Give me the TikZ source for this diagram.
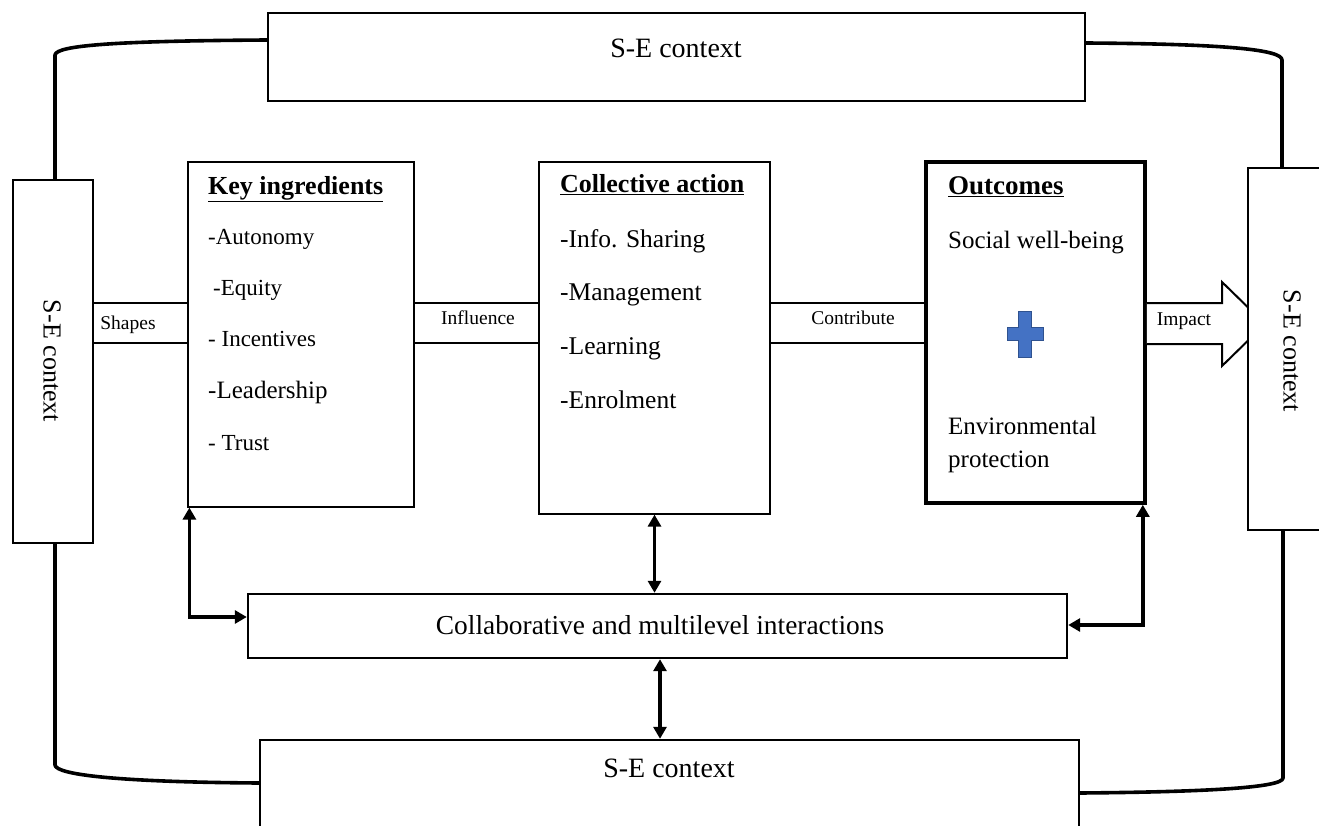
\documentclass[tikz,border=0pt]{standalone}
\usepackage{fontspec}
\setmainfont{Liberation Serif}
\usetikzlibrary{arrows.meta,calc}
\newcommand{\myfs}[1]{\fontsize{#1}{#1}\selectfont}
\begin{document}
\begin{tikzpicture}[x=1pt,y=-1pt,
  sebox/.style={draw,line width=2.4pt,inner sep=0pt,fill=white},
  thinbox/.style={draw,line width=1.2pt,inner sep=0pt},
  thickbox/.style={draw,line width=3.6pt,inner sep=0pt},
  item/.style={anchor=mid west,inner sep=0pt},
  band/.style={line width=1.6pt},
  lbl/.style={inner sep=0pt,font=\myfs{19.5}},
  outer/.style={line width=3.6pt,line join=round},
  biarrow/.style={line width=3.6pt,{Triangle[length=12pt,width=13pt]}-{Triangle[length=12pt,width=13pt]}},
]
\useasboundingbox (0,0) rectangle (1319,826);
\clip (0,0) rectangle (1319,826);

% boxes
\node[sebox,minimum width=817pt,minimum height=88pt] (top) at (676.5,57) {};
\node[font=\myfs{28},inner sep=0pt] (toptxt) at (676,48) {S-E context};
\node[sebox,minimum width=80pt,minimum height=363pt] (lbox) at (53,361.5) {};
\node[font=\myfs{26},inner sep=0pt,rotate=-90] (ltxt) at (52,361) {S-E context};

\node[thinbox,minimum width=226pt,minimum height=345pt] (key) at (301,334.5) {};
\node[thinbox,minimum width=231pt,minimum height=352pt] (coll) at (654.5,338) {};
\node[thickbox,minimum width=219pt,minimum height=341pt] (out) at (1035.5,332.5) {};

\node[sebox,minimum width=819pt,minimum height=64pt] (collab) at (657.5,626) {};
\node[font=\myfs{27.4},inner sep=0pt] (collabtxt) at (660,625) {Collaborative and multilevel interactions};
\node[sebox,minimum width=819pt,minimum height=100pt] (bot) at (669.5,790) {};
\node[font=\myfs{28},inner sep=0pt] (bottxt) at (669,768) {S-E context};

% key ingredients text
\node[item,font=\myfs{26}\bfseries] (k0) at (208,192) {\underline{Key ingredients}};
\node[item,font=\myfs{23}] (k1) at (208,242) {-Autonomy};
\node[item,font=\myfs{23}] (k2) at (213,293) {-Equity};
\node[item,font=\myfs{23}] (k3) at (208,344) {- Incentives};
\node[item,font=\myfs{25}] (k4) at (208,396) {-Leadership};
\node[item,font=\myfs{23}] (k5) at (208,448) {- Trust};

% collective action text
\node[item,font=\myfs{26}\bfseries] (c0) at (560,190) {\underline{Collective action}};
\node[item,font=\myfs{25.5}] (c1) at (560,245) {-Info. Sharing};
\node[item,font=\myfs{25.5}] (c2) at (560,298) {-Management};
\node[item,font=\myfs{25.5}] (c3) at (560,352) {-Learning};
\node[item,font=\myfs{25.5}] (c4) at (560,406) {-Enrolment};

% outcomes text
\node[item,font=\myfs{27}\bfseries] (o0) at (948,192) {\underline{Outcomes}};
\node[item,font=\myfs{25}] (o1) at (948,246) {Social well-being};
\node[item,font=\myfs{25}] (o2) at (948,432) {Environmental};
\node[item,font=\myfs{25}] (o3) at (948,465) {protection};

% plus sign
\draw[fill={rgb,255:red,68;green,114;blue,196},draw={rgb,255:red,47;green,82;blue,143},line width=1pt]
  (1025,334) ++(-6.5,-23) -- ++(13,0) -- ++(0,16.5) -- ++(11.5,0) -- ++(0,13) -- ++(-11.5,0)
  -- ++(0,16.5) -- ++(-13,0) -- ++(0,-16.5) -- ++(-11.5,0) -- ++(0,-13) -- ++(11.5,0) -- cycle;

% bands
\draw[band] (lbox.east |- 0,303) -- (key.west |- 0,303);
\draw[band] (lbox.east |- 0,343) -- (key.west |- 0,343);
\node[lbl] (shapes) at (128,325) {Shapes};
\draw[band] (key.east |- 0,303) -- (coll.west |- 0,303);
\draw[band] (key.east |- 0,343) -- (coll.west |- 0,343);
\node[lbl] (infl) at (478,318) {Influence};
\draw[band] (coll.east |- 0,303) -- (out.west |- 0,303);
\draw[band] (coll.east |- 0,343) -- (out.west |- 0,343);
\node[lbl] (contr) at (853,318) {Contribute};

% impact block arrow
\draw[line width=2pt,fill=white,line join=miter]
  (out.east |- 0,303) -- (1222,303) -- (1222,282) -- (1265,324) -- (1222,366) -- (1222,344) -- (out.east |- 0,344);
\node[lbl] (impact) at (1184,321) {Impact};

% right box (over arrow tip)
\node[sebox,minimum width=82pt,minimum height=362pt] (rbox) at (1289,349) {};
\node[font=\myfs{26},inner sep=0pt,rotate=-90] (rtxt) at (1292,351) {S-E context};

% outer curves
\draw[outer] (top.west |- 0,40) .. controls (120,41) and (56,45) .. (55,55) -- (lbox.north -| 55,0);
\draw[outer] (top.east |- 0,43) .. controls (1230,44) and (1282,50) .. (1282,60) -- (rbox.north -| 1282,0);
\draw[outer] (lbox.south -| 55,0) -- (55,765) .. controls (56,775) and (120,782) .. (bot.west |- 0,783);
\draw[outer] (bot.east |- 0,793) .. controls (1200,792) and (1283,788) .. (1283,778) -- (rbox.south -| 1283,0);

% interaction arrows
\draw[biarrow] ($(key.south west)+(2,0)$) |- (collab.west |- 0,617);
\draw[biarrow] (coll.south) -- (coll.south |- collab.north);
\draw[biarrow] ($(out.south east)+(-4,0)$) |- (collab.east |- 0,625);
\draw[biarrow] (collab.south -| 660,0) -- (bot.north -| 660,0);
\end{tikzpicture}
\end{document}
